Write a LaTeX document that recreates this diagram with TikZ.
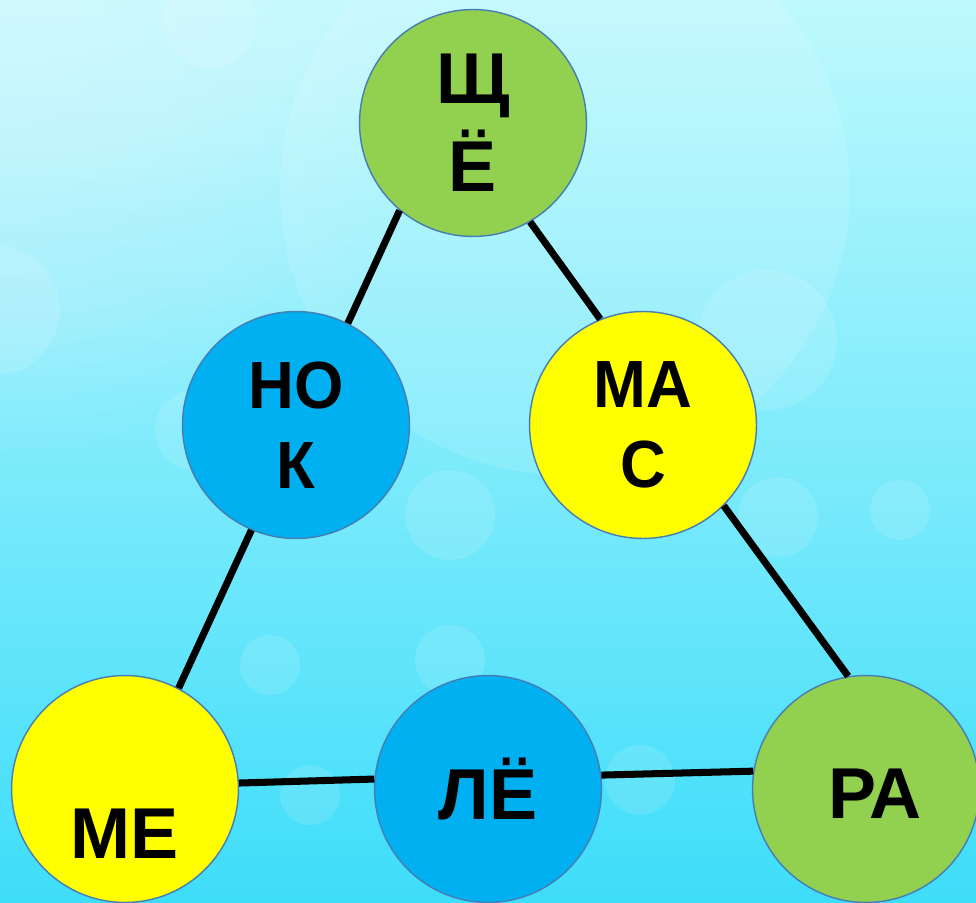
\documentclass[tikz,border=0pt]{standalone}
\usepackage{fontspec}
\setmainfont{Liberation Sans}
\newfontfamily\slimfont[FakeStretch=0.95]{Liberation Sans}
\usetikzlibrary{arrows}

\definecolor{leaf}{RGB}{146,208,80}
\definecolor{sky}{RGB}{0,176,240}
\definecolor{sun}{RGB}{255,255,0}
\definecolor{rim}{RGB}{70,125,180}
\definecolor{bgtop}{RGB}{190,249,253}
\definecolor{bgmid}{RGB}{145,239,250}
\definecolor{bgbot}{RGB}{62,221,250}

\begin{document}
\begin{tikzpicture}[x=0.02cm,y=-0.02cm,
  main node/.style={circle,draw=rim,line width=0.8pt,minimum size=4.54cm,inner sep=0pt,
    align=center,font=\fontsize{41}{50}\selectfont\bfseries},
  slim node/.style={main node,font=\slimfont\fontsize{38}{45.5}\selectfont\bfseries},
  word/.style={font=\fontsize{41}{50}\selectfont\bfseries},
  bubble/.style={fill=white,fill opacity=0.12}]

  \useasboundingbox (0,0) rectangle (976,902);
  \clip (0,0) rectangle (976,902);
  \shade[top color=bgtop,middle color=bgmid,bottom color=bgbot] (0,0) rectangle (976,902);
  % soft glow in the top left corner
  \foreach \r in {1.5,2,...,9}
    \fill[white,fill opacity=0.03] (0,0) circle (\r cm);
  \fill[bubble] (565,190) circle (5.7cm);
  \fill[bubble] (210,20) circle (0.95cm);
  \fill[bubble] (-5,310) circle (1.3cm);
  \fill[bubble] (767,340) circle (1.4cm);
  \fill[bubble] (450,515) circle (0.9cm);
  \fill[bubble] (778,517) circle (0.8cm);
  \fill[bubble] (195,430) circle (0.8cm);
  \fill[bubble] (270,665) circle (0.6cm);
  \fill[bubble] (310,795) circle (0.6cm);
  \fill[bubble] (450,660) circle (0.7cm);
  \fill[bubble] (640,780) circle (0.7cm);
  \fill[bubble] (900,510) circle (0.6cm);

  \node[main node,fill=leaf] (sch) at (473,123) {Щ\\Ё};
  \node[slim node,fill=sky] (nok) at (296,425) {НО\\К};
  \node[slim node,fill=sun] (mas) at (643,425) {МА\\С};
  \node[main node,fill=sun,label={[word,yshift=-0.9cm]center:МЕ}] (me) at (125,789) {};
  \node[main node,fill=sky] (lyo) at (488,789) {ЛЁ};
  \node[main node,fill=leaf,label={[word,xshift=0.18cm,yshift=-0.1cm]center:РА}] (ra) at (866,789) {};

  \path[black,line width=4pt]
    (sch.230) edge (nok.63)
    (sch.300) edge (mas.112)
    (nok.247) edge (me.62)
    (mas.315) edge (ra.99)
    (me.3) edge (lyo.175)
    (lyo.7) edge (ra.171);

\end{tikzpicture}
\end{document}
